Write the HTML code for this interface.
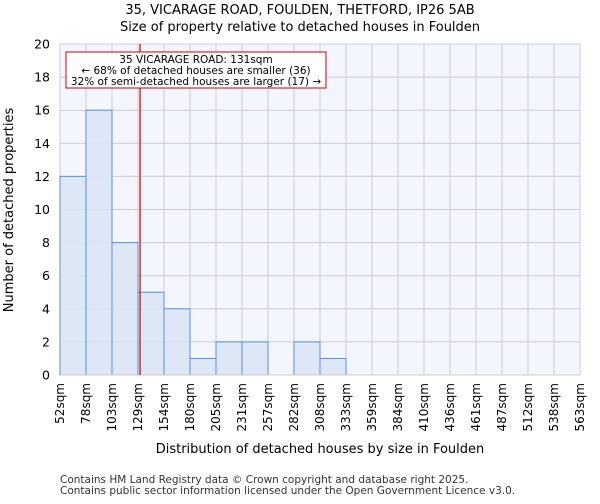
<!DOCTYPE html>
<html><head><meta charset="utf-8"><style>
body{margin:0;background:#fff;font-family:"DejaVu Sans","Liberation Sans",sans-serif;}
</style></head><body>
<svg id="chart" width="600" height="500" xmlns="http://www.w3.org/2000/svg" font-family="DejaVu Sans, Liberation Sans, sans-serif">
<text x="300" y="14" text-anchor="middle" font-size="13">35, VICARAGE ROAD, FOULDEN, THETFORD, IP26 5AB</text>
<text x="300" y="31" text-anchor="middle" font-size="13">Size of property relative to detached houses in Foulden</text>
<g id="plot"></g>
<text x="320" y="453" text-anchor="middle" font-size="13">Distribution of detached houses by size in Foulden</text>
<text transform="translate(13,210) rotate(-90)" text-anchor="middle" font-size="13">Number of detached properties</text>
<text x="60" y="483" font-size="10.5" fill="#333">Contains HM Land Registry data © Crown copyright and database right 2025.</text>
<text x="60" y="494" font-size="10.5" fill="#333">Contains public sector information licensed under the Open Government Licence v3.0.</text>
</svg>
<script>
const binLabels=["52sqm","78sqm","103sqm","129sqm","154sqm","180sqm","205sqm","231sqm","257sqm","282sqm","308sqm","333sqm","359sqm","384sqm","410sqm","436sqm","461sqm","487sqm","512sqm","538sqm","563sqm"];
const binEdges=[52,78,103,129,154,180,205,231,257,282,308,333,359,384,410,436,461,487,512,538,563];
const counts=[12,16,8,5,4,1,2,2,0,2,1,0,0,0,0,0,0,0,0,0];
const yTicks=[0,2,4,6,8,10,12,14,16,18,20];
const propertySize=131;
const NS="http://www.w3.org/2000/svg";
const L=60,R=580,T=44,B=375,yMax=20;
const nb=counts.length;
const xi=i=>L+(R-L)*i/nb;
const xv=v=>{for(let i=0;i<nb;i++){if(v<=binEdges[i+1])return xi(i)+(v-binEdges[i])/(binEdges[i+1]-binEdges[i])*(R-L)/nb;}return R;};
const y=v=>B-(B-T)*v/yMax;
const g=document.getElementById('plot');
function mk(t,a){const e=document.createElementNS(NS,t);for(const k in a)e.setAttribute(k,a[k]);g.appendChild(e);return e;}
let bg=mk('rect',{x:L,y:T,width:R-L,height:B-T,fill:'#f3f6fd'});


yTicks.forEach(t=>{
 let l=mk('line',{x1:L,x2:R,y1:y(t),y2:y(t),stroke:'#cccccc','stroke-width':1});
 
 
 let tx=mk('text',{x:L-10,y:y(t)+4.5,'text-anchor':'end','font-size':12.5});
 
 
 tx.textContent=t;
});
binLabels.forEach((lb,i)=>{
 let l=mk('line',{x1:xi(i),x2:xi(i),y1:T,y2:B,stroke:'#cccccc','stroke-width':1});
 
 
 let tx=mk('text',{transform:`translate(${xi(i)+4},${B+8}) rotate(-90)`,'text-anchor':'end','font-size':12});
 
 
 tx.textContent=lb;
});
counts.forEach((c,i)=>{
 if(c<=0)return;
 let r=mk('rect',{x:xi(i),y:y(c),width:xi(i+1)-xi(i),height:B-y(c),fill:'#dae5f5','fill-opacity':0.9,stroke:'#5b8fd6','stroke-width':1});
 
 
});
let ax=mk('line',{x1:L,x2:R,y1:B,y2:B,stroke:'#cccccc'});


let px=xv(propertySize);
let ml=mk('line',{x1:px,x2:px,y1:T,y2:B,stroke:'#cc0000','stroke-width':1.2});


let box=mk('rect',{x:66,y:52,width:260,height:36,fill:'#fff',stroke:'#cc0000','stroke-width':1});


["35 VICARAGE ROAD: 131sqm","← 68% of detached houses are smaller (36)","32% of semi-detached houses are larger (17) →"].forEach((s,k)=>{
 let t=mk('text',{x:196,y:63+k*11,'text-anchor':'middle','font-size':10.5});
 
 
 t.textContent=s;
});
</script>
</body></html>
